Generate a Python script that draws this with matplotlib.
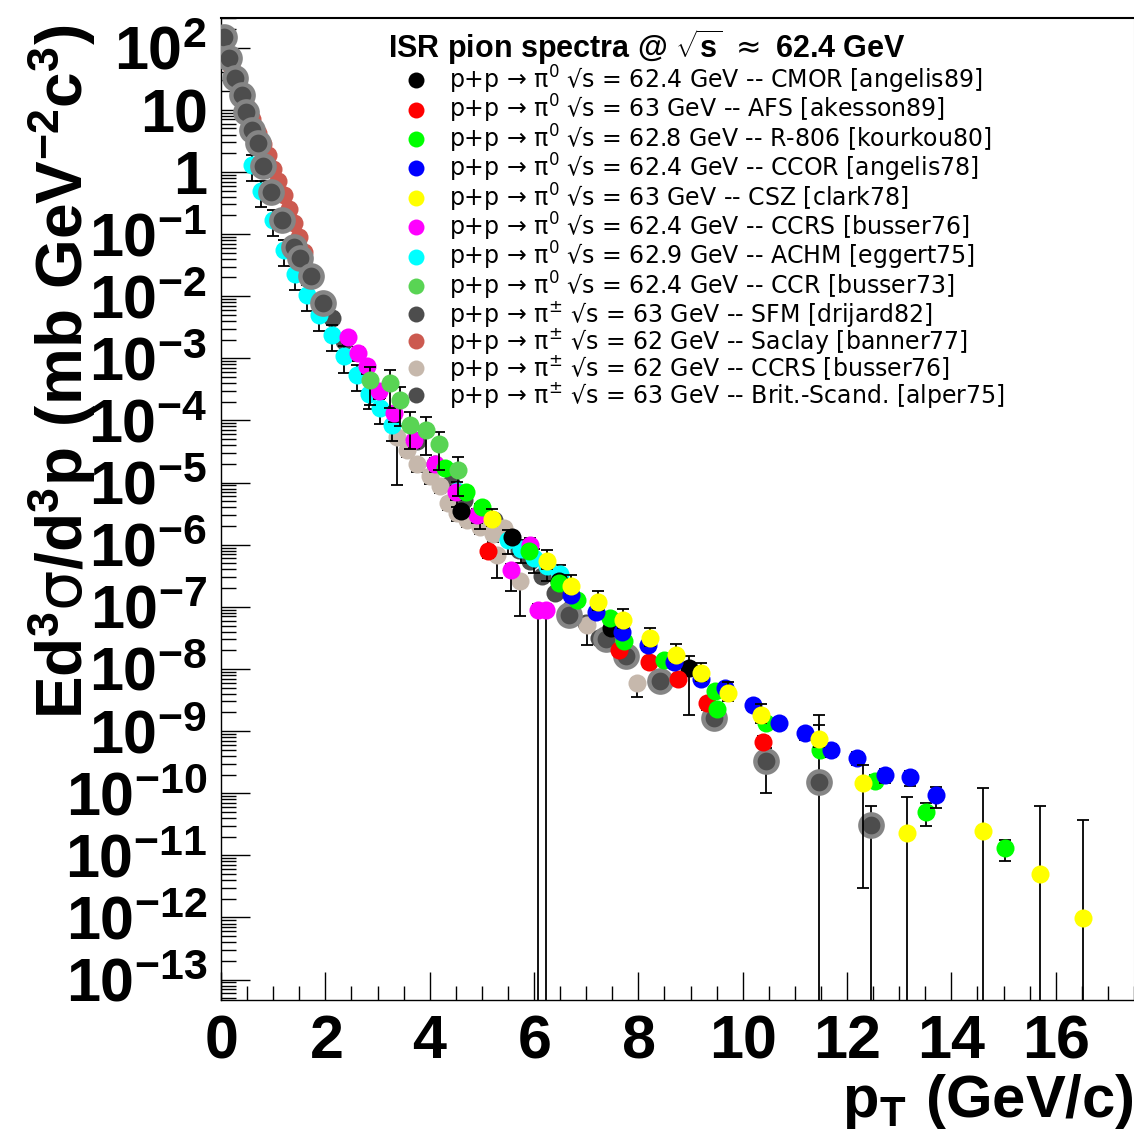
import numpy as np
import matplotlib
matplotlib.use("Agg")
import matplotlib.pyplot as plt
from matplotlib.lines import Line2D
from matplotlib.ticker import FixedLocator, LogLocator, FuncFormatter, MultipleLocator, NullFormatter

plt.rcParams['font.family'] = ['Liberation Sans', 'DejaVu Sans']
plt.rcParams['mathtext.fontset'] = 'custom'
plt.rcParams['mathtext.rm'] = 'DejaVu Sans'
plt.rcParams['mathtext.it'] = 'DejaVu Sans:italic'
plt.rcParams['mathtext.bf'] = 'Liberation Sans:bold'

# ---------- data (pT in GeV/c, E d3s/dp3 in mb GeV^-2 c^3) ----------
cmor_pt = [4.60, 5.58, 6.47, 7.47, 8.97]
cmor_y = [3.5e-6, 1.35e-6, 2.6e-7, 4.6e-8, 1.02e-8]
cmor_lo = [0.7e-6, 0.27e-6, 0.5e-7, 0.9e-8, 0.84e-8]
cmor_hi = [0.7e-6, 0.27e-6, 0.5e-7, 0.9e-8, 0.58e-8]

afs_pt = [5.12, 7.62, 8.20, 8.75, 9.32, 10.38]
afs_y = [7.8e-7, 2.0e-8, 1.3e-8, 7.0e-9, 2.8e-9, 6.8e-10]
afs_err = [1.6e-7, 4e-9, 2.6e-9, 1.4e-9, 0.6e-9, 1.4e-10]

r806_pt = [4.30, 4.70, 5.00, 5.90, 6.47, 6.83, 7.45, 7.72, 8.50, 9.47, 9.51, 10.44, 11.49, 12.53, 13.52, 15.02]
r806_y = [1.7e-5, 7.0e-6, 4.0e-6, 8.0e-7, 2.4e-7, 1.3e-7, 6.6e-8, 2.8e-8, 1.4e-8, 4.5e-9, 2.3e-9,
          1.35e-9, 5.0e-10, 1.6e-10, 5.0e-11, 1.3e-11]
r806_err = [3e-6, 1.2e-6, 0.7e-6, 1.4e-7, 0.4e-7, 0.25e-7, 1.2e-8, 0.5e-8, 0.25e-8, 0.8e-9, 0.4e-9,
            0.25e-9, 1e-10, 0.4e-10, 2.0e-11, 0.5e-11]

ccor_pt = [6.71, 7.18, 7.68, 8.19, 8.69, 9.20, 9.66, 10.20, 10.69, 11.19, 11.70, 12.20, 12.73, 13.21, 13.70]
ccor_y = [1.55e-7, 8.3e-8, 4.0e-8, 2.4e-8, 1.3e-8, 7.0e-9, 4.9e-9, 2.6e-9, 1.34e-9, 9.2e-10, 5.0e-10,
          3.7e-10, 1.95e-10, 1.8e-10, 9.3e-11]
ccor_err = [2.5e-8, 1.4e-8, 0.7e-8, 0.4e-8, 0.25e-8, 1.3e-9, 0.9e-9, 0.5e-9, 0.27e-9, 1.9e-10, 1.1e-10,
            0.9e-10, 0.5e-10, 0.5e-10, 3.5e-11]

csz_pt = [5.20, 6.25, 6.71, 7.22, 7.70, 8.23, 8.72, 9.20, 9.72, 10.36, 11.47, 12.30, 13.14, 14.61, 15.69, 16.53]
csz_y = [2.6e-6, 5.4e-7, 2.2e-7, 1.2e-7, 6.1e-8, 3.1e-8, 1.7e-8, 8.5e-9, 4.1e-9, 1.8e-9, 7.6e-10,
         1.45e-10, 2.3e-11, 2.5e-11, 5.0e-12, 9.8e-13]
csz_lo = [0.6e-6, 1.3e-7, 0.55e-7, 0.3e-7, 1.5e-8, 0.75e-8, 0.4e-8, 2e-9, 1e-9, 0.45e-9, 2e-10,
          1.42e-10, 2.3e-11, 2.5e-11, 5.0e-12, 9.8e-13]
csz_hi = [1.2e-6, 2.7e-7, 1.1e-7, 0.6e-7, 3e-8, 1.5e-8, 0.85e-8, 4.2e-9, 2e-9, 0.9e-9, 1.04e-9,
          1.35e-10, 6.4e-11, 9.5e-11, 5.8e-11, 3.6e-11]

ccrs0_pt = [2.44, 2.63, 2.79, 3.02, 3.31, 3.69, 4.10, 4.50, 4.90, 5.55, 5.93, 6.07, 6.22]
ccrs0_y = [2.2e-3, 1.2e-3, 7.4e-4, 3.0e-4, 1.3e-4, 4.9e-5, 2.0e-5, 7.0e-6, 3.0e-6, 3.9e-7, 1.0e-6, 9.0e-8, 9.0e-8]
ccrs0_lo = [0.5e-3, 0.3e-3, 1.8e-4, 0.8e-4, 0.35e-4, 1.3e-5, 0.5e-5, 1.8e-6, 0.8e-6, 2.1e-7, 0.3e-6, 9.0e-8, 9.0e-8]
ccrs0_hi = [0.5e-3, 0.3e-3, 1.8e-4, 0.8e-4, 0.35e-4, 1.3e-5, 0.5e-5, 1.8e-6, 0.8e-6, 1.0e-7, 0.3e-6, 2e-8, 2e-8]

achm_pt = [0.59, 0.77, 1.00, 1.20, 1.42, 1.64, 1.87, 2.12, 2.35, 2.60, 2.83, 3.05, 3.28,
           4.52, 4.97, 5.50, 5.75, 6.00, 6.25, 6.50]
achm_y = [1.3, 0.49, 0.17, 0.056, 0.023, 0.0104, 5.0e-3, 2.4e-3, 1.07e-3, 5.4e-4, 2.7e-4, 1.6e-4, 8.5e-5,
          7.2e-6, 3.2e-6, 1.2e-6, 8.5e-7, 6.0e-7, 4.5e-7, 3.4e-7]
achm_err = [0.58, 0.22, 0.077, 0.025, 0.0104, 0.0047, 2.2e-3, 1.1e-3, 0.48e-3, 2.4e-4, 1.2e-4, 0.72e-4, 3.8e-5,
            3.2e-6, 1.4e-6, 0.5e-6, 3.5e-7, 2.5e-7, 1.9e-7, 1.4e-7]

ccr_pt = [2.86, 3.24, 3.44, 3.63, 3.92, 4.17, 4.55]
ccr_y = [4.5e-4, 4.0e-4, 2.1e-4, 8.5e-5, 7.0e-5, 4.1e-5, 1.6e-5]
ccr_err = [2.7e-4, 2.4e-4, 1.3e-4, 5e-5, 4.2e-5, 2.5e-5, 1e-5]

sfm_pt = [2.12, 2.35, 3.76, 4.10, 4.40, 4.65, 5.23, 5.50, 5.71, 5.93, 6.16, 6.41, 6.70, 7.00, 7.24]
sfm_y = [4.5e-3, 1.9e-3, 4.6e-5, 2.0e-5, 1.0e-5, 5.3e-6, 2.5e-6, 1.3e-6, 8.3e-7, 5.4e-7, 3.1e-7,
         1.7e-7, 9.5e-8, 5.5e-8, 3.1e-8]

saclay_pt = [0.20, 0.30, 0.40, 0.50, 0.60, 0.70, 0.80, 0.90, 1.00, 1.10, 1.20, 1.30, 1.40, 1.50, 1.60]
saclay_y = [50, 32, 19, 11.2, 7.1, 4.2, 2.8, 1.9, 1.12, 0.71, 0.42, 0.25, 0.15, 0.089, 0.052]

ccrsc_pt = [3.37, 3.56, 3.75, 4.01, 4.20, 4.36, 4.52, 4.71, 4.97, 5.22, 5.42, 5.29, 5.74, 7.02, 7.98]
ccrsc_y = [5.5e-5, 3.4e-5, 2.0e-5, 1.26e-5, 8.7e-6, 4.7e-6, 3.2e-6, 2.5e-6, 1.96e-6, 1.5e-6, 1.85e-6,
           6.9e-7, 2.6e-7, 5.1e-8, 5.9e-9]
ccrsc_lo = [4.6e-5, 0.8e-5, 0.5e-5, 0.3e-5, 2e-6, 1.1e-6, 0.8e-6, 0.6e-6, 0.5e-6, 0.4e-6, 0.45e-6,
            3.95e-7, 1.9e-7, 2.7e-8, 2.4e-9]
ccrsc_hi = [1e-5, 0.6e-5, 0.4e-5, 0.25e-5, 1.7e-6, 0.9e-6, 0.6e-6, 0.5e-6, 0.4e-6, 0.3e-6, 0.35e-6,
            1.2e-7, 0.5e-7, 1e-8, 1.2e-9]

alper_pt = [0.05, 0.16, 0.27, 0.40, 0.48, 0.59, 0.70, 0.81, 0.96, 1.17, 1.39, 1.52, 1.72, 1.96,
            6.67, 7.37, 7.76, 8.42, 9.45, 10.44, 11.47, 12.46]
alper_y = [150, 68, 32, 17.5, 9.1, 4.8, 2.9, 1.26, 0.47, 0.17, 0.063, 0.041, 0.021, 7.8e-3,
           7.4e-8, 3.0e-8, 1.6e-8, 6.3e-9, 1.6e-9, 3.3e-10, 1.5e-10, 3.1e-11]
alper_lo = [15, 7, 3, 1.7, 0.9, 0.5, 0.3, 0.13, 0.05, 0.017, 0.006, 0.004, 0.002, 0.8e-3,
            0.7e-8, 0.3e-8, 0.16e-8, 0.6e-9, 0.4e-9, 2.3e-10, 1.5e-10, 3.1e-11]
alper_hi = [15, 7, 3, 1.7, 0.9, 0.5, 0.3, 0.13, 0.05, 0.017, 0.006, 0.004, 0.002, 0.8e-3,
            0.7e-8, 0.3e-8, 0.16e-8, 0.6e-9, 0.3e-9, 2.1e-10, 1.1e-9, 3.2e-11]

y_decades = [-13, -12, -11, -10, -9, -8, -7, -6, -5, -4, -3, -2, -1, 0, 1, 2]

labels = [
    "p+p \u2192 \u03c0$^{0}$ \u221as = 62.4 GeV -- CMOR [angelis89]",
    "p+p \u2192 \u03c0$^{0}$ \u221as = 63 GeV -- AFS [akesson89]",
    "p+p \u2192 \u03c0$^{0}$ \u221as = 62.8 GeV -- R-806 [kourkou80]",
    "p+p \u2192 \u03c0$^{0}$ \u221as = 62.4 GeV -- CCOR [angelis78]",
    "p+p \u2192 \u03c0$^{0}$ \u221as = 63 GeV -- CSZ [clark78]",
    "p+p \u2192 \u03c0$^{0}$ \u221as = 62.4 GeV -- CCRS [busser76]",
    "p+p \u2192 \u03c0$^{0}$ \u221as = 62.9 GeV -- ACHM [eggert75]",
    "p+p \u2192 \u03c0$^{0}$ \u221as = 62.4 GeV -- CCR [busser73]",
    "p+p \u2192 \u03c0$^{\\pm}$ \u221as = 63 GeV -- SFM [drijard82]",
    "p+p \u2192 \u03c0$^{\\pm}$ \u221as = 62 GeV -- Saclay [banner77]",
    "p+p \u2192 \u03c0$^{\\pm}$ \u221as = 62 GeV -- CCRS [busser76]",
    "p+p \u2192 \u03c0$^{\\pm}$ \u221as = 63 GeV -- Brit.-Scand. [alper75]",
]
colors = ["#000000", "#ff0000", "#00ff00", "#0000ff", "#ffff00", "#ff00ff",
          "#00ffff", "#59d454", "#4d4d4d", "#cc5a50", "#c6b8ac", "#4d4d4d"]

# (pt, y, lo, hi, color index, zorder, halo)
series = [
    (saclay_pt, saclay_y, None, None, 9, 2, False),
    (sfm_pt, sfm_y, None, None, 8, 3, False),
    (ccrsc_pt, ccrsc_y, ccrsc_lo, ccrsc_hi, 10, 4, False),
    (achm_pt, achm_y, achm_err, achm_err, 6, 5, False),
    (ccrs0_pt, ccrs0_y, ccrs0_lo, ccrs0_hi, 5, 6, False),
    (alper_pt, alper_y, alper_lo, alper_hi, 11, 7, True),
    (cmor_pt, cmor_y, cmor_lo, cmor_hi, 0, 8, False),
    (afs_pt, afs_y, afs_err, afs_err, 1, 9, False),
    (r806_pt, r806_y, r806_err, r806_err, 2, 10, False),
    (ccr_pt, ccr_y, ccr_err, ccr_err, 7, 11, False),
    (ccor_pt, ccor_y, ccor_err, ccor_err, 3, 12, False),
    (csz_pt, csz_y, csz_lo, csz_hi, 4, 13, False),
]

fig = plt.figure(figsize=(11.34, 11.31), dpi=100)
ax = fig.add_axes([221 / 1134, 1 - 1000 / 1131, 913 / 1134, 982 / 1131])
ax.set_yscale("log")

for pt, y, lo, hi, ci, z, halo in series:
    if lo is not None:
        ax.errorbar(pt, y, yerr=[lo, hi], fmt="none", ecolor="black", elinewidth=1.3,
                    capsize=4, capthick=1.3, zorder=z)
    if halo:
        ax.plot(pt, y, "o", ls="none", color=colors[ci], ms=16, mec="#858585", mew=3.2, zorder=z + 0.5)
    else:
        ax.plot(pt, y, "o", ls="none", color=colors[ci], ms=13, mew=0, zorder=z + 0.5)

ax.set_xlim(0, 17.5)
ax.set_ylim(4.7e-14, 3.0e2)

# axes / ticks, ROOT style
ax.xaxis.set_major_locator(MultipleLocator(2))
ax.xaxis.set_minor_locator(MultipleLocator(0.5))
ax.xaxis.set_major_formatter(FuncFormatter(lambda v, pos: r"$\mathbf{%d}$" % round(v)))
ax.yaxis.set_major_locator(FixedLocator([10.0 ** e for e in y_decades]))
ax.yaxis.set_minor_locator(LogLocator(base=10, subs=np.arange(2, 10), numticks=30))
ax.yaxis.set_minor_formatter(NullFormatter())


def yfmt(v, pos):
    e = int(round(np.log10(v)))
    if e == 0:
        return r"$\mathbf{1}$"
    if e == 1:
        return r"$\mathbf{10}$"
    return r"$\mathbf{10^{%d}}$" % e


ax.yaxis.set_major_formatter(FuncFormatter(yfmt))
ax.tick_params(which="both", direction="in", top=False, right=False, width=1.0, colors="black")
ax.tick_params(which="major", axis="x", length=20, pad=10, labelsize=44)
ax.tick_params(which="minor", axis="x", length=10)
ax.tick_params(which="major", axis="y", length=21, pad=10, labelsize=44)
ax.tick_params(which="minor", axis="y", length=11)
ax.spines["top"].set_linewidth(1.5)
ax.spines["right"].set_color("#bbbbbb")
ax.spines["left"].set_linewidth(1.0)
ax.spines["bottom"].set_linewidth(1.0)

ax.set_xlabel(r"$\mathbf{p_{T}\ (GeV/c)}$", fontsize=43, loc="right", labelpad=0.5)
fig.text(62 / 1134, 1 - 24 / 1131,
         r"$\mathbf{Ed^{3}}\mathrm{\sigma}\mathbf{/d^{3}p\ (mb\ GeV^{-2}c^{3})}$",
         rotation=90, ha="center", va="top", fontsize=46)

handles = [Line2D([], [], marker="o", ls="none", color=c, ms=11.5, mew=0) for c in colors]
leg = ax.legend(handles, labels, loc="upper left", bbox_to_anchor=(0.183, 0.991),
                frameon=False, alignment="left",
                prop={"family": "DejaVu Sans", "size": 17},
                title=r"ISR pion spectra @ $\mathbf{\sqrt{s}}$ $\approx$ 62.4 GeV",
                title_fontproperties={"family": "Liberation Sans", "weight": "bold", "size": 22},
                handlelength=2.35, handletextpad=0.25, labelspacing=-0.12,
                borderpad=0, borderaxespad=0)

fig.savefig("out.png", dpi=100)
